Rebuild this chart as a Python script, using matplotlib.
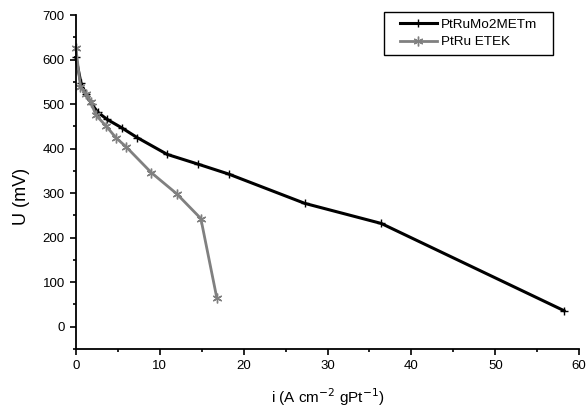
import matplotlib.pyplot as plt
from matplotlib.patches import Rectangle
from matplotlib.ticker import MultipleLocator

plt.rcParams['font.family'] = ['Liberation Sans', 'DejaVu Sans']

# PtRuMo2METm
i_mo = [0, 0.6, 1.2, 1.9, 2.6, 3.7, 5.45, 7.3, 10.9, 14.6, 18.2, 27.3, 36.4, 58.2]
u_mo = [605, 548, 522, 500, 482, 466, 447, 425, 387, 365, 343, 277, 232, 36]

# PtRu ETEK
i_etek = [0, 0.55, 1.2, 1.8, 2.4, 3.6, 4.8, 6.0, 9.0, 12.0, 14.9, 16.8]
u_etek = [627, 538, 523, 504, 475, 451, 424, 404, 346, 299, 243, 65]

fig = plt.figure(figsize=(5.88, 4.07), dpi=100)
ax = fig.add_axes([0.129, 0.1425, 0.856, 0.8205])

ax.plot(i_mo, u_mo, color='black', lw=2.2, marker='+', ms=6, mew=1,
        label='PtRuMo2METm', clip_on=False)
ax.plot(i_etek, u_etek, color='#808080', lw=2, marker=(6, 2, 0), ms=7, mew=1,
        label='PtRu ETEK', clip_on=False)

ax.set_xlim(0, 60)
ax.set_ylim(-50, 700)
ax.xaxis.set_major_locator(MultipleLocator(10))
ax.xaxis.set_minor_locator(MultipleLocator(5))
ax.yaxis.set_minor_locator(MultipleLocator(50))
ax.set_yticks(range(0, 701, 100))

for s in ['top', 'right']:
    ax.spines[s].set_visible(False)
for s in ['left', 'bottom']:
    ax.spines[s].set_linewidth(1.3)
ax.tick_params(which='major', direction='out', length=4, width=1.2,
               labelsize=9.5, pad=4)
ax.tick_params(which='minor', direction='out', length=2.5, width=1.2)

ax.set_xlabel('i (A cm$^{-2}$ gPt$^{-1}$)', fontsize=11)
ax.xaxis.set_label_coords(0.5, -0.143)
ax.xaxis.label.set_va('center')
ax.set_ylabel('U (mV)', fontsize=13)
ax.yaxis.set_label_coords(-0.107, 0.457)
ax.yaxis.label.set_va('center')

leg = fig.legend(loc='center', bbox_to_anchor=(468.5 / 588, 1 - 33.5 / 407),
                 fontsize=9.7, frameon=False, handlelength=2.7,
                 handletextpad=0.3, labelspacing=0.35, borderpad=0)
# legend frame
fig.add_artist(Rectangle((384 / 588, 1 - 55 / 407), 169 / 588, 43 / 407,
                         transform=fig.transFigure, fill=False,
                         edgecolor='black', lw=1))

fig.savefig('out.png', dpi=100)
